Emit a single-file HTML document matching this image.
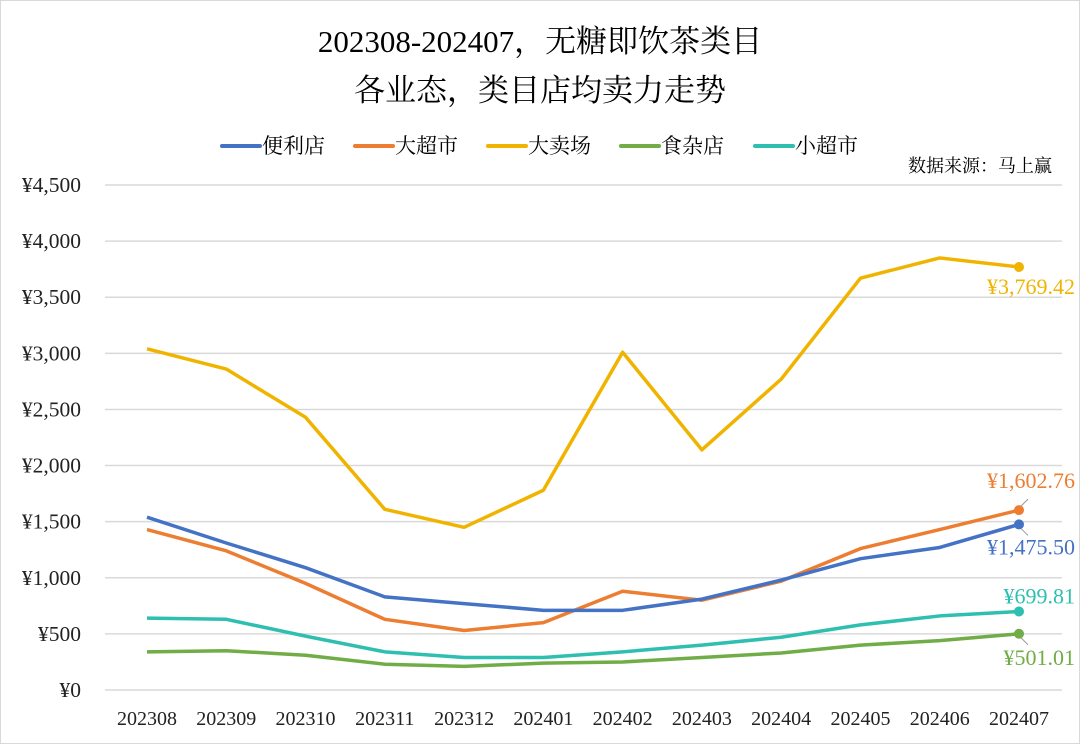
<!DOCTYPE html>
<html><head><meta charset="utf-8"><style>
body{margin:0;background:#fff}
svg{display:block;font-family:"Liberation Serif","Noto Serif CJK SC",serif}
</style></head><body>
<svg width="1080" height="744" viewBox="0 0 1080 744" xmlns="http://www.w3.org/2000/svg">
<rect x="0.5" y="0.5" width="1079" height="743" fill="#fff" stroke="#d9d9d9"/>
<text x="540" y="52" text-anchor="middle" font-size="31" fill="#000">202308-202407，无糖即饮茶类目</text>
<text x="540" y="101" text-anchor="middle" font-size="31" fill="#000">各业态，类目店均卖力走势</text>
<text x="1052" y="172" text-anchor="end" font-size="18" fill="#000">数据来源：马上赢</text>
<g id="grid"></g><g id="legend"></g><g id="series"></g>
</svg>
<script>
const categories=["202308","202309","202310","202311","202312","202401","202402","202403","202404","202405","202406","202407"];
const seriesNames=["便利店","大超市","大卖场","食杂店","小超市"];
const bianlidian=[1540,1310,1090,830,770,710,710,810,980,1170,1270,1475.50];
const dachaoshi=[1430,1240,950,630,530,600,880,800,970,1260,1430,1602.76];
const damaichang=[3040,2860,2430,1610,1450,1780,3010,2140,2770,3670,3850,3769.42];
const shizadian=[340,350,310,230,210,240,250,290,330,400,440,501.01];
const xiaochaoshi=[640,630,480,340,290,290,340,400,470,580,660,699.81];
const yTicks=[0,500,1000,1500,2000,2500,3000,3500,4000,4500];
const colors=["#4472C4","#ED7D31","#F0B400","#70AD47","#2EBFB0"];
const seriesData=[bianlidian,dachaoshi,damaichang,shizadian,xiaochaoshi];
const NS="http://www.w3.org/2000/svg";
const x=i=>147+i*(1019-147)/(categories.length-1);
const y=v=>690-v*(690-185)/4500;
function mk(tag,attrs,parent,text){const e=document.createElementNS(NS,tag);for(const k in attrs)e.setAttribute(k,attrs[k]);if(text!==undefined)e.textContent=text;parent.appendChild(e);return e;}
const grid=document.getElementById('grid');
yTicks.forEach(t=>{
  const l=mk('line',{x1:105,x2:1062,y1:y(t),y2:y(t),stroke:'#d9d9d9','stroke-width':1.5},grid);
  
  
  const tx=mk('text',{x:81,y:y(t)+7,'text-anchor':'end','font-size':21.5,fill:'#222'},grid,'¥'+t.toLocaleString('en-US'));
  
  
});
categories.forEach((c,i)=>{
  const tx=mk('text',{x:x(i),y:725,'text-anchor':'middle','font-size':20,fill:'#222'},grid,c);
  
  
});
const lg=document.getElementById('legend');
const lx=[222,355,488,621,755];
seriesNames.forEach((n,i)=>{
  const g=mk('g',{},lg);
  
  
  mk('line',{x1:lx[i],x2:lx[i]+38,y1:146,y2:146,stroke:colors[i],'stroke-width':4,'stroke-linecap':'round'},g);
  mk('text',{x:lx[i]+40,y:153,'font-size':21,fill:'#000'},g,n);
});
const sg=document.getElementById('series');
const order=[2,1,0,4,3];
order.forEach(si=>{
  const d=seriesData[si];
  const pts=d.map((v,i)=>x(i)+','+y(v)).join(' ');
  const p=mk('polyline',{points:pts,fill:'none',stroke:colors[si],'stroke-width':3.5,'stroke-linejoin':'round'},sg);
  
  
  const li=d.length-1;
  const c=mk('circle',{cx:x(li),cy:y(d[li]),r:5,fill:colors[si]},sg);
  
  
});
const labelOff=[y(bianlidian[11])+30,y(dachaoshi[11])-22,y(damaichang[11])+27,y(shizadian[11])+31,y(xiaochaoshi[11])-8];
seriesData.forEach((d,si)=>{
  const v=d[d.length-1];
  const t=mk('text',{x:1075,y:labelOff[si],'text-anchor':'end','font-size':22,fill:colors[si]},sg,'¥'+v.toLocaleString('en-US',{minimumFractionDigits:2,maximumFractionDigits:2}));
  
  
});
[[bianlidian,1],[dachaoshi,-1],[shizadian,1]].forEach(([d,s])=>{
  const yy=y(d[11]);
  const l=mk('line',{x1:1021,y1:yy+4*s,x2:1028,y2:yy+11*s,stroke:'#999','stroke-width':1},sg);
  
  
});
</script>
</body></html>
